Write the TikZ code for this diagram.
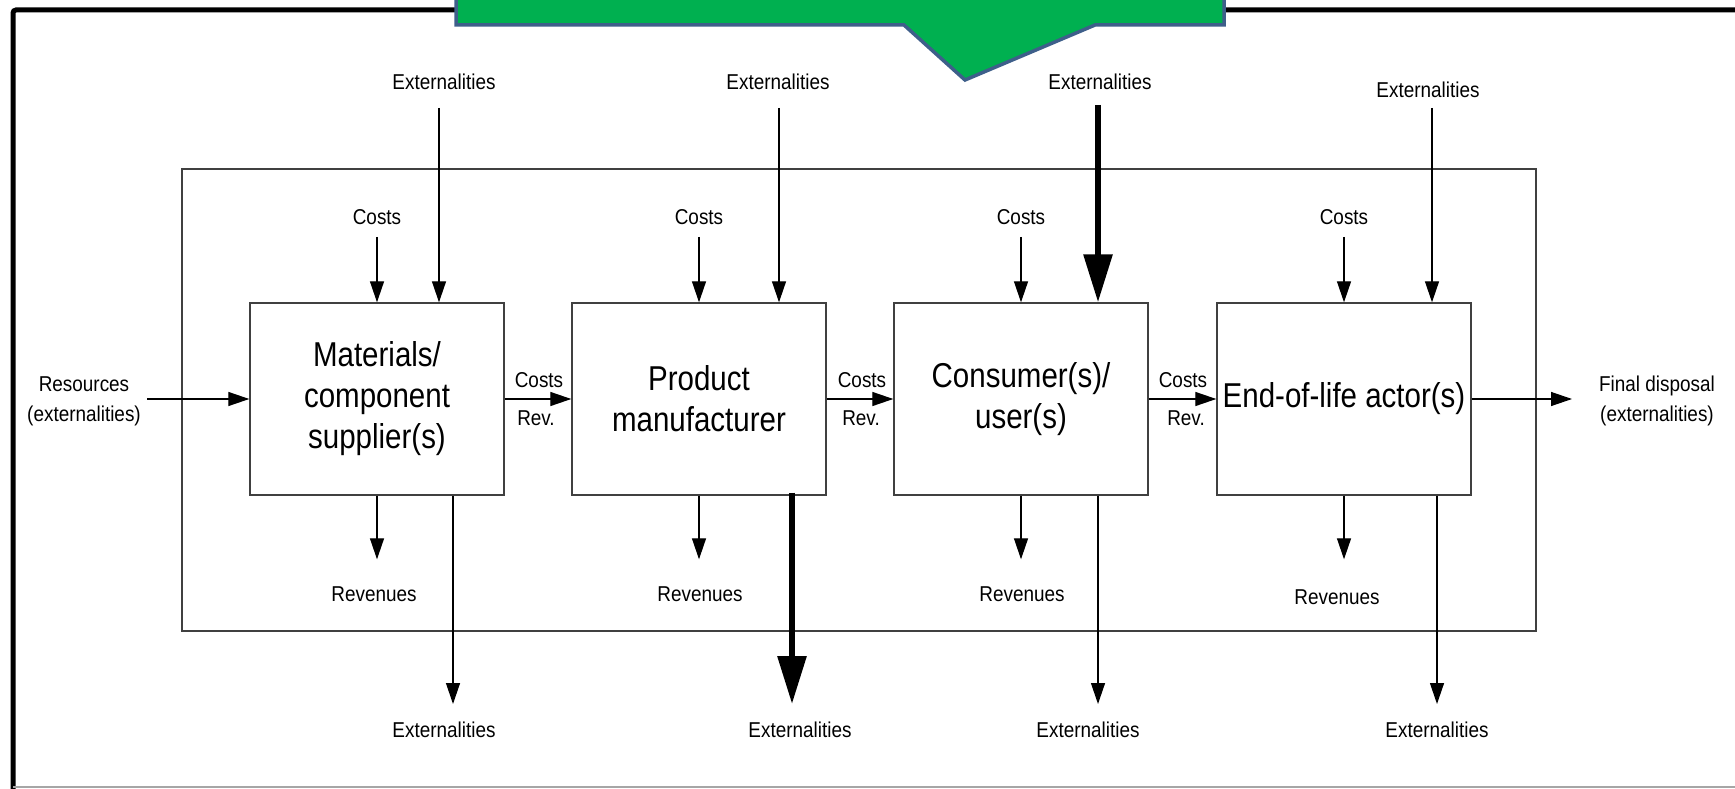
\documentclass[tikz,border=0pt]{standalone}
\usepackage{fontspec}
\setmainfont{Liberation Sans}
\newfontfamily\diagfont{Liberation Sans}[FakeStretch=0.88]
\newfontfamily\actorfont{Liberation Sans}[FakeStretch=0.855]
\usetikzlibrary{arrows.meta}
\definecolor{calloutgreen}{HTML}{00B050}
\definecolor{calloutedge}{HTML}{3E5F8A}
\definecolor{boxedge}{HTML}{404040}
\definecolor{frameedge}{HTML}{A6A6A6}
\tikzset{
  lbl/.style={font=\diagfont\fontsize{21.5}{30}\selectfont, inner sep=0pt, align=center},
  actor/.style={draw=boxedge, line width=1.4pt, fill=white, minimum width=254pt,
    minimum height=192pt, inner sep=0pt, align=center,
    font=\actorfont\fontsize{34.5}{41}\selectfont},
  flow/.style={line width=1.3pt, -{Triangle[length=21pt,width=14pt]}},
  heavy/.style={line width=6pt, -{Triangle[length=48pt,width=28pt]}},
  outerbox/.style={draw=boxedge, line width=1.4pt},
}
\begin{document}
\begin{tikzpicture}[x=1pt,y=-1pt]
\useasboundingbox (0,0) rectangle (1735,789);
% outer frame
\draw[line width=5pt, rounded corners=3pt] (13,795) -- (13,10) -- (1745,10);
\draw[frameedge, line width=2pt] (13,787) -- (1745,787);
% callout
\draw[calloutedge, fill=calloutgreen, line width=3.5pt, line join=miter]
  (456,-10) -- (456,25) -- (904,25) -- (965,80) -- (1095,25) -- (1224,25) -- (1224,-10);
% inner system boundary
\draw[outerbox] (182,169) rectangle (1536,631);

% actors
\node[actor] (b1) at (377,399) {Materials/\\component\\supplier(s)};
\node[actor] (b2) at (699,399) {Product\\manufacturer};
\node[actor] (b3) at (1021,399) {Consumer(s)/\\user(s)};
\node[actor] (b4) at (1344,399) {End-of-life actor(s)};

% top externalities
\node[lbl] (et1) at (444,82) {Externalities};
\node[lbl] (et2) at (778,82) {Externalities};
\node[lbl] (et3) at (1100,82) {Externalities};
\node[lbl] (et4) at (1428,90) {Externalities};
\coordinate (et1s) at (439,108);
\coordinate (et2s) at (779,108);
\coordinate (et3s) at (1098,105);
\coordinate (et4s) at (1432,108);
\draw[flow] (et1s) -- (et1s |- b1.north);
\draw[flow] (et2s) -- (et2s |- b2.north);
\draw[heavy] (et3s) -- (et3s |- b3.north);
\draw[flow] (et4s) -- (et4s |- b4.north);

% costs
\node[lbl] (c1) at (377,217) {Costs};
\node[lbl] (c2) at (699,217) {Costs};
\node[lbl] (c3) at (1021,217) {Costs};
\node[lbl] (c4) at (1344,217) {Costs};
\draw[flow, shorten <=12pt] (c1.south) -- (b1.north);
\draw[flow, shorten <=12pt] (c2.south) -- (b2.north);
\draw[flow, shorten <=12pt] (c3.south) -- (b3.north);
\draw[flow, shorten <=12pt] (c4.south) -- (b4.north);

% revenues
\node[lbl] (r1) at (374,594) {Revenues};
\node[lbl] (r2) at (700,594) {Revenues};
\node[lbl] (r3) at (1022,594) {Revenues};
\node[lbl] (r4) at (1337,597) {Revenues};
\draw[flow, shorten >=27pt] (b1.south) -- (b1.south |- r1.north);
\draw[flow, shorten >=27pt] (b2.south) -- (b2.south |- r2.north);
\draw[flow, shorten >=27pt] (b3.south) -- (b3.south |- r3.north);
\draw[flow, shorten >=30pt] (b4.south) -- (b4.south |- r4.north);

% bottom externalities
\node[lbl] (eb1) at (444,730) {Externalities};
\node[lbl] (eb2) at (800,730) {Externalities};
\node[lbl] (eb3) at (1088,730) {Externalities};
\node[lbl] (eb4) at (1437,730) {Externalities};
\coordinate (eb1e) at (453,704);
\coordinate (eb2e) at (792,704);
\coordinate (eb3e) at (1098,704);
\coordinate (eb4e) at (1437,704);
\draw[flow] (b1.south -| eb1e) -- (eb1e);
\draw[heavy] ([yshift=3pt]b2.south -| eb2e) -- (eb2e);
\draw[flow] (b3.south -| eb3e) -- (eb3e);
\draw[flow] (b4.south -| eb4e) -- (eb4e);

% horizontal flows
\node[lbl] (res) at (84,401) {Resources\\(externalities)};
\coordinate (ress) at (147,399);
\draw[flow] (ress) -- (b1.west);
\draw[flow] (b1.east) -- (b2.west);
\draw[flow] (b2.east) -- (b3.west);
\draw[flow] (b3.east) -- (b4.west);
\node[lbl] (fin) at (1657,401) {Final disposal\\(externalities)};
\coordinate (fine) at (1572,399);
\draw[flow] (b4.east) -- (fine);

% costs / rev labels between actors
\node[lbl] (k1) at (539,380) {Costs};
\node[lbl] (v1) at (536,418) {Rev.};
\node[lbl] (k2) at (862,380) {Costs};
\node[lbl] (v2) at (861,418) {Rev.};
\node[lbl] (k3) at (1183,380) {Costs};
\node[lbl] (v3) at (1186,418) {Rev.};
\end{tikzpicture}
\end{document}
